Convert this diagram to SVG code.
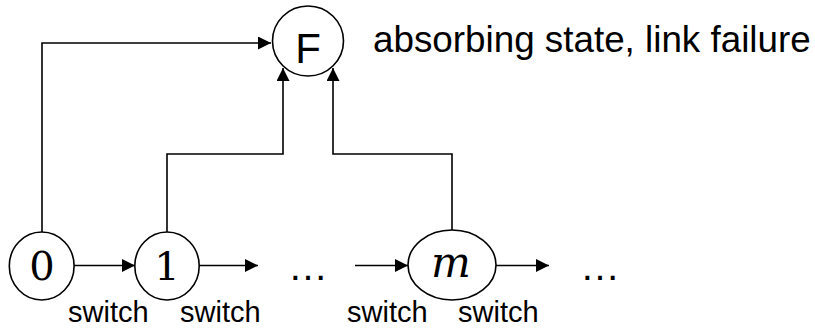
<svg xmlns="http://www.w3.org/2000/svg" width="815" height="329" viewBox="0 0 815 329">
<style>
.node{fill:#fff;stroke:#000;stroke-width:1.6}
.edge{fill:none;stroke:#000;stroke-width:1.6}
.sans{font-family:"Liberation Sans",Arial,sans-serif;fill:#000}
.serif{font-family:"DejaVu Serif","Liberation Serif",serif;fill:#000}
.sw{font-size:29px}
</style>
<defs>
<marker id="arr" markerUnits="userSpaceOnUse" markerWidth="14" markerHeight="14" refX="13" refY="6.5" orient="auto">
<path d="M0,0 L13,6.5 L0,13 Z" fill="#000"/>
</marker>
</defs>
<rect width="815" height="329" fill="#fff"/>
<g id="connectors">
<path class="edge" d="M42,232 V43 H271" marker-end="url(#arr)"/>
<path class="edge" d="M167,232 V154 H283 V68" marker-end="url(#arr)"/>
<path class="edge" d="M452,230 V154 H333 V68" marker-end="url(#arr)"/>
<path class="edge" d="M74,265.5 H135" marker-end="url(#arr)"/>
<path class="edge" d="M199,265.5 H258" marker-end="url(#arr)"/>
<path class="edge" d="M355,265.5 H408" marker-end="url(#arr)"/>
<path class="edge" d="M496,265.5 H549" marker-end="url(#arr)"/>
</g>
<g id="nodeF">
<ellipse class="node" cx="308" cy="41" rx="35.5" ry="35"/>
<text class="sans" x="308" y="63" font-size="42" text-anchor="middle">F</text>
</g>
<g id="node0">
<ellipse class="node" cx="41.7" cy="266" rx="32.4" ry="34"/>
<text class="serif" x="42" y="280" font-size="40" text-anchor="middle">0</text>
</g>
<g id="node1">
<ellipse class="node" cx="167" cy="266" rx="32.2" ry="34"/>
<text class="serif" x="167" y="280" font-size="40" text-anchor="middle">1</text>
</g>
<g id="nodem">
<ellipse class="node" cx="452" cy="265" rx="44" ry="35"/>
<text class="serif" x="451" y="277" font-size="42" font-style="italic" text-anchor="middle">m</text>
</g>
<g id="labels">
<text class="sans" x="373" y="52" font-size="36.8">absorbing state, link failure</text>
<text class="sans" x="288" y="280" font-size="40">…</text>
<text class="sans" x="580" y="280" font-size="40">…</text>
<text class="sans sw" x="68" y="322">switch</text>
<text class="sans sw" x="180" y="322">switch</text>
<text class="sans sw" x="347" y="322">switch</text>
<text class="sans sw" x="458" y="322">switch</text>
</g>
</svg>
